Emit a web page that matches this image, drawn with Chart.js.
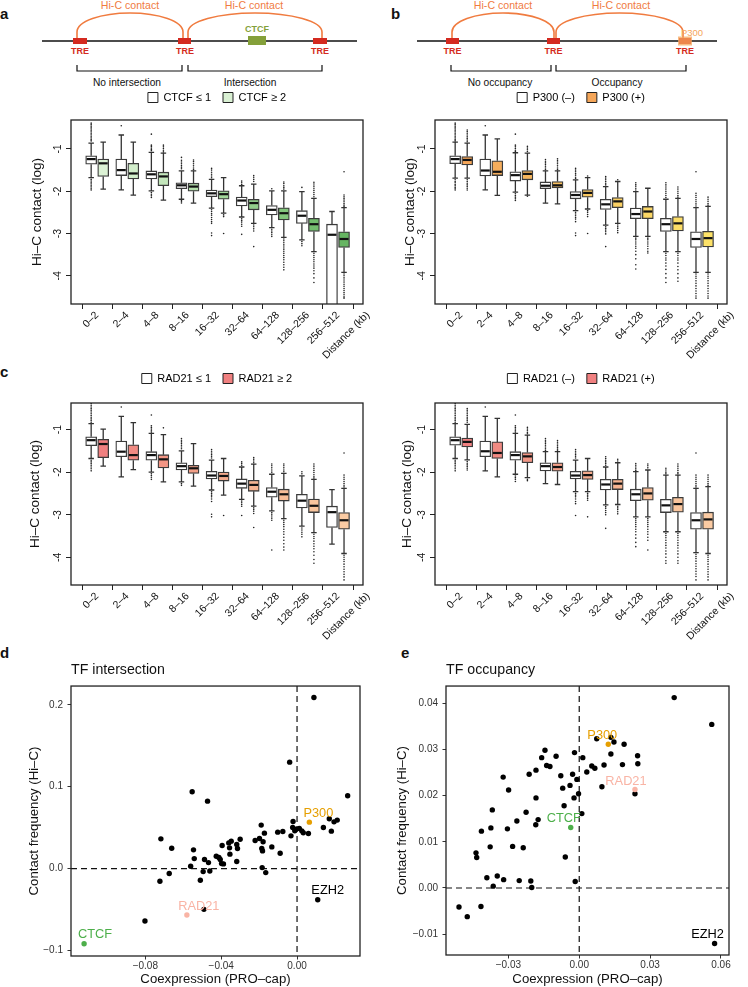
<!DOCTYPE html>
<html>
<head>
<meta charset="utf-8">
<script src="https://cdn.jsdelivr.net/npm/chart.js@4.4.1/dist/chart.umd.min.js"></script>
<style>
  html, body { margin: 0; padding: 0; background: #fff; }
  body { width: 748px; height: 987px; position: relative; overflow: hidden;
         font-family: "Liberation Sans", Arial, Helvetica, sans-serif; color: #111; }
  .pane { position: absolute; }
  .tag { position: absolute; font-weight: bold; font-size: 15px; line-height: 1; }
  svg { position: absolute; overflow: visible; }
</style>
</head>
<body>

<div class="tag" style="left:0;top:6px">a</div>
<div class="tag" style="left:391px;top:6px">b</div>
<div class="tag" style="left:0;top:364px">c</div>
<div class="tag" style="left:0;top:645px">d</div>
<div class="tag" style="left:401px;top:645px">e</div>

<!-- schematic a -->
<svg style="left:0;top:0" width="374" height="92" font-family="Liberation Sans, Arial, sans-serif">
  <g fill="none" stroke="#f07b3f" stroke-width="1.6">
    <path d="M77,38 V32 A53,19 0 0 1 183,32 V38"/>
    <path d="M188,38 V32 A67,19 0 0 1 322,32 V38"/>
  </g>
  <line x1="42" y1="41" x2="357" y2="41" stroke="#111" stroke-width="1.6"/>
  <rect x="73" y="38" width="14" height="6" fill="#d42a20"/>
  <rect x="178" y="38" width="13" height="6" fill="#d42a20"/>
  <rect x="313" y="38" width="14" height="6" fill="#d42a20"/>
  <rect x="248" y="36" width="18" height="9" fill="#84a03a"/>
  <g fill="#d42a20" font-size="9" font-weight="bold" text-anchor="middle">
    <text x="80" y="54">TRE</text><text x="185" y="54">TRE</text><text x="320" y="54">TRE</text>
  </g>
  <text x="257" y="32" fill="#84a03a" font-size="9" font-weight="bold" text-anchor="middle">CTCF</text>
  <g fill="#f07b3f" font-size="10.6" text-anchor="middle">
    <text x="130" y="9">Hi-C contact</text><text x="254" y="9">Hi-C contact</text>
  </g>
  <path d="M77,65 V71 H182 V65 M188,65 V71 H322 V65" fill="none" stroke="#111" stroke-width="1.2"/>
  <g fill="#111" font-size="10.2" text-anchor="middle">
    <text x="127" y="86">No intersection</text><text x="250" y="86">Intersection</text>
  </g>
</svg>

<!-- schematic b -->
<svg style="left:374px;top:0" width="374" height="92" font-family="Liberation Sans, Arial, sans-serif">
  <g fill="none" stroke="#f07b3f" stroke-width="1.6">
    <path d="M78,38 V32 A51,19 0 0 1 180,32 V38"/>
    <path d="M182,38 V32 A63.5,19 0 0 1 309,32 V38"/>
  </g>
  <line x1="43" y1="41" x2="343" y2="41" stroke="#111" stroke-width="1.6"/>
  <rect x="72" y="38" width="13" height="6" fill="#d42a20"/>
  <rect x="173" y="38" width="13" height="6" fill="#d42a20"/>
  <rect x="305" y="38" width="12" height="6" fill="#d42a20"/>
  <rect x="304" y="36.5" width="14" height="9" fill="#f5a65b" fill-opacity="0.75"/>
  <g fill="#d42a20" font-size="9" font-weight="bold" text-anchor="middle">
    <text x="78.5" y="54">TRE</text><text x="179.5" y="54">TRE</text><text x="311" y="54">TRE</text>
  </g>
  <text x="318" y="35.5" fill="#f5a65b" font-size="9.5" text-anchor="middle">P300</text>
  <g fill="#f07b3f" font-size="10.6" text-anchor="middle">
    <text x="129" y="9">Hi-C contact</text><text x="247" y="9">Hi-C contact</text>
  </g>
  <path d="M77,65 V71 H177 V65 M182,65 V71 H312 V65" fill="none" stroke="#111" stroke-width="1.2"/>
  <g fill="#111" font-size="10.2" text-anchor="middle">
    <text x="126" y="86">No occupancy</text><text x="243" y="86">Occupancy</text>
  </g>
</svg>

<div class="pane" style="left:0;top:80px"><canvas id="chartA" width="384" height="282"></canvas></div>
<div class="pane" style="left:364px;top:80px"><canvas id="chartB" width="384" height="282"></canvas></div>
<div class="pane" style="left:0;top:361px"><canvas id="chartC1" width="384" height="282"></canvas></div>
<div class="pane" style="left:364px;top:361px"><canvas id="chartC2" width="384" height="282"></canvas></div>
<div class="pane" style="left:0;top:640px"><canvas id="chartD" width="374" height="347"></canvas></div>
<div class="pane" style="left:374px;top:640px"><canvas id="chartE" width="374" height="347"></canvas></div>

<script>
// distance bins and log contact ticks shared by the four box plots
const distanceBins = ['0–2', '2–4', '4–8', '8–16', '16–32', '32–64', '64–128', '128–256', '256–512'];
const distanceEndLabel = 'Distance (kb)';
const contactTicks = [-4, -3, -2, -1];

// each box: [lower whisker, Q1, median, Q3, upper whisker]
// panel a: CTCF <= 1 / CTCF >= 2
const ctcfLow = [
  [-1.68, -1.36, -1.24, -1.16, -0.86],
  [-1.97, -1.63, -1.50, -1.24, -0.67],
  [-1.99, -1.71, -1.60, -1.52, -1.08],
  [-2.19, -1.94, -1.86, -1.80, -1.52],
  [-2.40, -2.13, -2.05, -1.97, -1.72],
  [-2.61, -2.35, -2.22, -2.14, -1.87],
  [-2.86, -2.56, -2.44, -2.34, -1.99],
  [-3.15, -2.76, -2.58, -2.46, -2.01],
  [-5.60, -5.20, -3.03, -2.78, -2.48]
];
const ctcfLowOut = [
  [-0.39, -0.42, -0.46, -0.5, -0.53, -0.57, -0.6, -0.64, -0.67, -0.71, -0.74, -0.78, -0.81, -1.72, -1.76, -1.8, -1.83, -1.87, -1.9, -1.94, -1.97],
  [-0.45],
  [-0.65, -0.91, -0.94, -0.98, -1.01, -1.04, -2.03, -2.07, -2.11, -2.15],
  [-1.2, -1.27, -1.31, -1.35, -1.39, -1.43, -1.47, -2.22, -2.25, -2.28],
  [-1.46, -1.5, -1.55, -1.6, -1.64, -1.68, -2.44, -2.48, -2.53, -2.57, -2.62, -2.67, -2.72, -2.76, -2.99, -3.05],
  [-1.76, -1.8, -1.84, -2.65, -2.69, -2.73, -2.78, -2.83, -3.02],
  [-1.94, -2.9, -2.94, -2.98, -3.03, -3.07],
  [-1.91, -3.19, -3.24, -3.29],
  []
];
const ctcfHigh = [
  [-1.95, -1.65, -1.34, -1.24, -0.84],
  [-2.09, -1.71, -1.58, -1.34, -0.84],
  [-2.21, -1.87, -1.65, -1.55, -1.10],
  [-2.28, -2.00, -1.89, -1.81, -1.52],
  [-2.52, -2.19, -2.07, -1.99, -1.68],
  [-2.76, -2.44, -2.28, -2.19, -1.83],
  [-3.09, -2.68, -2.52, -2.39, -1.99],
  [-3.43, -2.95, -2.78, -2.64, -2.17],
  [-3.92, -3.33, -3.13, -2.96, -2.39]
];
const ctcfHighOut = [
  [],
  [],
  [-0.91, -0.95, -0.99, -1.03, -1.07],
  [-1.26, -1.3, -1.35, -1.4, -1.45, -1.49],
  [-2.56, -2.6, -3.0],
  [-1.63, -1.67, -1.72, -1.77, -2.8, -2.84, -2.89, -2.94, -3.31],
  [-1.78, -1.82, -1.87, -1.91, -1.95, -3.13, -3.17, -3.22, -3.27, -3.32, -3.37, -3.42, -3.47, -3.52, -3.57, -3.62, -3.68, -3.74, -3.8, -3.86],
  [-1.79, -1.83, -1.88, -1.93, -1.98, -2.03, -2.08, -2.13, -3.47, -3.52, -3.57, -3.62, -3.67, -3.72, -3.77, -3.82, -3.88, -3.95, -4.05, -4.16],
  [-1.54, -2.09, -2.13, -2.17, -2.21, -2.25, -2.29, -2.33, -2.36, -3.96, -4.0, -4.05, -4.1, -4.15, -4.2, -4.25, -4.3, -4.35, -4.4, -4.45, -4.5, -4.53]
];

// panel b: P300 (-) / P300 (+)
const p300Neg = [
  [-1.69, -1.35, -1.24, -1.16, -0.84],
  [-1.97, -1.64, -1.51, -1.24, -0.67],
  [-2.02, -1.76, -1.62, -1.54, -1.09],
  [-2.28, -1.94, -1.87, -1.78, -1.52],
  [-2.46, -2.18, -2.09, -2.01, -1.73],
  [-2.80, -2.43, -2.31, -2.19, -1.89],
  [-3.07, -2.65, -2.54, -2.40, -2.01],
  [-3.43, -2.95, -2.78, -2.64, -2.19],
  [-3.92, -3.33, -3.13, -2.96, -2.39]
];
const p300NegOut = [
  [-0.39, -0.42, -0.46, -0.5, -0.53, -0.57, -0.6, -0.64, -0.67, -0.71, -0.74, -0.78, -0.81, -1.73, -1.77, -1.8, -1.84, -1.87, -1.91, -1.94, -1.97],
  [-0.45],
  [-0.65, -0.91, -0.95, -0.99, -1.03, -1.06, -2.06, -2.1, -2.14, -2.18, -2.22],
  [-1.25, -1.29, -1.33, -1.37, -1.41, -1.45, -1.49],
  [-1.46, -1.5, -1.54, -1.58, -1.62, -1.67, -1.7, -2.5, -2.54, -2.58, -2.62, -2.66, -2.72, -2.99, -3.05],
  [-1.65, -1.69, -1.73, -1.77, -1.81, -1.85, -2.84, -2.88, -2.92, -2.96, -3.01, -3.31],
  [-1.8, -1.84, -1.88, -1.93, -1.97, -3.11, -3.15, -3.2, -3.25, -3.3, -3.35, -3.42, -3.5, -3.6, -3.74, -3.84],
  [-1.8, -1.85, -1.9, -1.95, -2.0, -2.05, -2.1, -2.15, -3.47, -3.52, -3.58, -3.63, -3.7, -3.77, -3.85, -3.95, -4.05, -4.16],
  [-1.54, -2.05, -2.1, -2.15, -2.2, -2.25, -2.3, -2.35, -3.96, -4.01, -4.06, -4.12, -4.18, -4.24, -4.3, -4.36, -4.42, -4.48, -4.53]
];
const p300Pos = [
  [-1.69, -1.38, -1.26, -1.18, -0.86],
  [-2.10, -1.63, -1.54, -1.28, -0.76],
  [-2.09, -1.73, -1.59, -1.51, -1.10],
  [-2.30, -1.92, -1.86, -1.77, -1.52],
  [-2.42, -2.14, -2.04, -1.96, -1.68],
  [-2.76, -2.39, -2.24, -2.15, -1.77],
  [-3.07, -2.65, -2.48, -2.36, -1.93],
  [-3.43, -2.94, -2.76, -2.60, -2.17],
  [-3.92, -3.32, -3.11, -2.95, -2.36]
];
const p300PosOut = [
  [-0.55, -0.59, -0.63, -0.67, -0.71, -0.75, -0.79, -0.83, -1.73, -1.77, -1.81, -1.85, -1.89, -1.93, -1.97],
  [],
  [-0.94, -0.98, -1.02, -1.06, -2.12],
  [-1.23, -1.27, -1.31, -1.35, -1.4, -1.45, -1.49],
  [-1.64, -2.46, -2.5, -2.55, -2.6, -3.0],
  [-1.73, -2.8, -2.84, -2.88, -2.93, -2.98],
  [-3.11, -3.15, -3.2, -3.25, -3.3, -3.36, -3.42, -3.46],
  [-1.9, -1.95, -2.0, -2.05, -2.1, -2.14, -3.47, -3.52, -3.58, -3.63, -3.7, -3.78, -3.86, -3.95, -4.05, -4.13],
  [-2.14, -2.19, -2.24, -2.29, -2.33, -3.96, -4.01, -4.06, -4.12, -4.18, -4.24, -4.3, -4.36, -4.42, -4.48, -4.53]
];

// panel c left: RAD21 <= 1 / RAD21 >= 2
const rad21Low = [
  [-1.68, -1.38, -1.25, -1.17, -0.86],
  [-2.11, -1.64, -1.52, -1.27, -0.69],
  [-2.00, -1.72, -1.60, -1.52, -1.09],
  [-2.23, -1.95, -1.86, -1.78, -1.50],
  [-2.42, -2.16, -2.08, -1.98, -1.72],
  [-2.64, -2.38, -2.27, -2.16, -1.88],
  [-2.91, -2.59, -2.46, -2.36, -2.05],
  [-3.27, -2.84, -2.67, -2.52, -2.09],
  [-3.69, -3.30, -2.94, -2.80, -2.41]
];
const rad21LowOut = [
  [-0.39, -0.43, -0.47, -0.51, -0.55, -0.59, -0.63, -0.67, -0.71, -0.75, -0.79, -0.83, -1.72, -1.76, -1.8, -1.84, -1.88, -1.92, -1.97],
  [-0.47],
  [-0.66, -0.91, -0.95, -0.99, -1.03, -1.06, -2.04, -2.08, -2.12, -2.17],
  [-1.21, -1.25, -1.29, -1.33, -1.37, -1.41, -1.45, -2.27, -2.31],
  [-1.47, -1.51, -1.55, -1.59, -1.63, -1.67, -2.46, -2.5, -2.54, -2.58, -2.63, -2.69, -2.99, -3.05],
  [-1.76, -1.8, -1.84, -2.68, -2.72, -2.76, -2.8, -3.02],
  [-1.81, -1.85, -1.9, -1.95, -2.0, -2.95, -2.99, -3.03, -3.08, -3.13, -3.83],
  [-1.99, -2.04, -3.31, -3.36, -3.41, -3.46, -3.52],
  []
];
const rad21High = [
  [-1.86, -1.66, -1.34, -1.23, -0.99],
  [-1.94, -1.72, -1.60, -1.36, -0.84],
  [-2.23, -1.90, -1.70, -1.59, -1.12],
  [-2.33, -2.03, -1.91, -1.84, -1.33],
  [-2.54, -2.21, -2.09, -2.00, -1.68],
  [-2.80, -2.45, -2.30, -2.19, -1.81],
  [-3.09, -2.68, -2.52, -2.40, -2.03],
  [-3.42, -2.95, -2.79, -2.63, -2.17],
  [-3.91, -3.34, -3.13, -2.95, -2.38]
];
const rad21HighOut = [
  [],
  [],
  [-0.96],
  [],
  [-3.02],
  [-1.66, -1.7, -1.74, -1.78, -2.84, -2.88, -2.92, -2.97, -3.3],
  [-1.81, -1.85, -1.9, -1.95, -1.99, -3.13, -3.18, -3.23, -3.28, -3.34, -3.4, -3.46, -3.53, -3.6, -3.68, -3.76, -3.83],
  [-1.81, -1.86, -1.91, -1.96, -2.01, -2.06, -2.11, -2.14, -3.46, -3.51, -3.56, -3.62, -3.68, -3.74, -3.8, -3.87, -3.95, -4.05, -4.14],
  [-1.55, -2.07, -2.12, -2.17, -2.22, -2.27, -2.32, -2.35, -3.95, -4.0, -4.05, -4.1, -4.16, -4.22, -4.28, -4.34, -4.4, -4.46, -4.53]
];

// panel c right: RAD21 (-) / RAD21 (+)
const rad21Neg = [
  [-1.68, -1.37, -1.25, -1.17, -0.86],
  [-1.97, -1.64, -1.51, -1.27, -0.69],
  [-2.05, -1.72, -1.60, -1.52, -1.09],
  [-2.27, -1.97, -1.86, -1.78, -1.52],
  [-2.46, -2.16, -2.08, -1.98, -1.72],
  [-2.77, -2.42, -2.29, -2.17, -1.88],
  [-3.05, -2.67, -2.52, -2.40, -1.99],
  [-3.40, -2.95, -2.78, -2.64, -2.07],
  [-3.89, -3.34, -3.13, -2.95, -2.38]
];
const rad21NegOut = [
  [-0.39, -0.43, -0.47, -0.51, -0.55, -0.59, -0.63, -0.67, -0.71, -0.75, -0.79, -0.83, -1.72, -1.76, -1.8, -1.84, -1.88, -1.92, -1.97],
  [-0.47],
  [-0.66, -0.91, -0.95, -0.99, -1.03, -1.06, -2.09, -2.13, -2.17, -2.22],
  [-1.21, -1.25, -1.29, -1.33, -1.37, -1.41, -1.45, -1.49],
  [-1.47, -1.51, -1.55, -1.59, -1.63, -1.67, -2.5, -2.54, -2.58, -2.63, -2.69, -2.74, -3.02],
  [-1.64, -1.68, -1.72, -1.76, -1.8, -1.84, -2.81, -2.85, -2.9, -2.95, -3.0, -3.32],
  [-1.8, -1.84, -1.88, -1.92, -1.96, -3.09, -3.13, -3.18, -3.23, -3.28, -3.34, -3.4, -3.47, -3.55, -3.65, -3.75],
  [-1.91, -1.95, -2.0, -2.04, -3.44, -3.49, -3.54, -3.6, -3.66, -3.72, -3.78, -3.85, -3.92, -4.0, -4.08, -4.14],
  [-1.55, -2.07, -2.12, -2.17, -2.22, -2.27, -2.32, -2.35, -3.93, -3.98, -4.03, -4.09, -4.15, -4.21, -4.27, -4.33, -4.39, -4.45, -4.53]
];
const rad21Pos = [
  [-1.71, -1.41, -1.29, -1.20, -0.88],
  [-2.11, -1.68, -1.55, -1.29, -0.74],
  [-2.13, -1.78, -1.63, -1.54, -1.13],
  [-2.29, -1.98, -1.88, -1.78, -1.52],
  [-2.46, -2.17, -2.07, -1.97, -1.68],
  [-2.76, -2.41, -2.27, -2.17, -1.78],
  [-3.05, -2.66, -2.50, -2.36, -1.95],
  [-3.40, -2.94, -2.75, -2.59, -2.07],
  [-3.91, -3.34, -3.11, -2.94, -2.34]
];
const rad21PosOut = [
  [-0.51, -0.55, -0.59, -0.63, -0.67, -0.71, -0.75, -0.79, -0.83, -1.75, -1.79, -1.83, -1.87, -1.91, -1.95],
  [],
  [-0.95, -0.99, -1.03, -1.07, -1.1, -2.17, -2.2],
  [-1.26, -1.3, -1.34, -1.38, -1.42, -1.46, -1.5],
  [-2.5, -2.54, -2.58, -2.62, -2.66, -3.05],
  [-1.7, -1.74, -2.8, -2.84, -2.88, -2.93, -2.98],
  [-1.81, -1.85, -1.9, -3.09, -3.13, -3.18, -3.23, -3.28, -3.34, -3.4, -3.46, -3.53, -3.6, -3.83],
  [-1.81, -1.86, -1.91, -1.96, -2.01, -2.04, -3.44, -3.49, -3.54, -3.6, -3.66, -3.72, -3.78, -3.85, -3.92, -4.0, -4.08, -4.14],
  [-2.07, -2.12, -2.17, -2.22, -2.27, -2.31, -3.95, -4.0, -4.05, -4.1, -4.16, -4.22, -4.28, -4.34, -4.4, -4.46, -4.53]
];

// panel d: TF intersection
const interX = [0.0089, -0.0039, 0.0267, -0.0553, -0.0472, 0.0170, 0.0195, 0.0212, 0.0181, 0.0139,
  -0.0021, -0.0023, -0.0005, 0.0012, 0.0025, 0.0033, 0.0060, -0.0032, -0.0012, -0.0189,
  -0.0172, -0.0102, -0.0075, -0.0133, -0.0089, -0.0221, -0.0198, -0.0179, -0.0186, -0.0182,
  -0.0184, -0.0165, -0.0300, -0.0318, -0.0314, -0.0318, -0.0347, -0.0360, -0.0395, -0.0356,
  -0.0354, -0.0426, -0.0412, -0.0405, -0.0398, -0.0388, -0.0546, -0.0542, -0.0488, -0.0467,
  -0.0460, -0.0495, -0.0561, -0.0510, -0.0718, -0.0661, -0.0674, -0.0723, -0.0802, -0.0491];
const interY = [0.209, 0.130, 0.089, 0.0939, 0.0824, 0.0608, 0.0571, 0.0592, 0.0457, 0.0502,
  0.0576, 0.0502, 0.0482, 0.0490, 0.0461, 0.0437, 0.0429, 0.0400, 0.0461, 0.0531,
  0.0433, 0.0445, 0.0453, 0.0265, 0.0188, 0.0343, 0.0367, 0.0327, 0.0245, 0.0216,
  0.0012, -0.0049, 0.0359, 0.0294, 0.0245, 0.0086, 0.0335, 0.0314, 0.0282, 0.0253,
  0.0176, 0.0151, 0.0135, 0.0110, 0.0061, 0.0057, 0.0229, 0.0122, 0.0110, 0.0073,
  -0.0029, -0.0037, 0.0029, -0.0143, 0.0363, 0.0249, -0.0061, -0.0155, -0.0641, -0.0498];
const interMarks = ['CTCF', 'RAD21', 'P300', 'EZH2'];
const interMarkX = [-0.1123, -0.0581, 0.0065, 0.0109];
const interMarkY = [-0.0918, -0.0567, 0.0567, -0.0380];
const interXTicks = [-0.08, -0.04, 0];
const interYTicks = [-0.1, 0, 0.1, 0.2];

// panel e: TF occupancy
const occX = [0.0402, 0.0561, 0.0074, 0.0134, 0.0147, 0.0190, 0.0134, 0.0247, 0.0248, 0.0183,
  0.0105, 0.0053, 0.0066, 0.0032, 0.0015, -0.0020, 0.0096, 0.0236, -0.0098, -0.0145,
  -0.0159, -0.0138, -0.0124, -0.0183, -0.0212, -0.0078, -0.0028, -0.0010, -0.0039, -0.0070,
  -0.0003, -0.0022, -0.0183, -0.0064, 0.0011, -0.0225, -0.0174, -0.0184, -0.0264, -0.0322,
  -0.0299, -0.0368, -0.0414, -0.0374, -0.0304, -0.0437, -0.0434, -0.0377, -0.0282, -0.0237,
  -0.0059, -0.0391, -0.0347, -0.0364, -0.0320, -0.0254, -0.0205, -0.0201, -0.0017, -0.0509,
  -0.0474, -0.0416];
const occY = [0.0412, 0.0354, 0.0323, 0.0326, 0.0316, 0.0311, 0.0290, 0.0286, 0.0269, 0.0267,
  0.0266, 0.0264, 0.0259, 0.0251, 0.0282, 0.0293, 0.0219, 0.0204, 0.0285, 0.0298,
  0.0282, 0.0265, 0.0263, 0.0255, 0.0246, 0.0243, 0.0246, 0.0235, 0.0222, 0.0216,
  0.0204, 0.0195, 0.0195, 0.0178, 0.0161, 0.0164, 0.0148, 0.0137, 0.0145, 0.0240,
  0.0212, 0.0169, 0.0123, 0.0130, 0.0128, 0.0076, 0.0066, 0.0089, 0.0090, 0.0087,
  0.0067, 0.0022, 0.0026, 0.0004, 0.0018, 0.0016, 0.0015, 0.0001, 0.0014, -0.0041,
  -0.0062, -0.0040];
const occMarks = ['CTCF', 'RAD21', 'P300', 'EZH2'];
const occMarkX = [-0.0036, 0.0236, 0.0123, 0.0573];
const occMarkY = [0.0131, 0.0213, 0.0311, -0.0120];
const occXTicks = [-0.03, 0, 0.03, 0.06];
const occYTicks = [-0.01, 0, 0.01, 0.02, 0.03, 0.04];

// styles
const greenFills = ['#dcf2d5', '#d2eecb', '#c4e7bc', '#b5e0ac', '#a3d79b', '#92ce8b', '#82c57c', '#73bd6e', '#66b562'];
const orangeFills = ['#f5a659', '#f6ad5b', '#f7b65d', '#f8bf5f', '#f9c862', '#fad064', '#fbd766', '#fcdd67', '#fde268'];
const redFills = ['#f08080', '#f08a82', '#f29584', '#f3a088', '#f5aa8c', '#f6b491', '#f8bd97', '#f9c59d', '#fbcba3'];
const markColors = { CTCF: '#4daf4a', RAD21: '#f9b4a5', P300: '#e69f00', EZH2: '#000000' };
const FONT = '"Liberation Sans", Arial, Helvetica, sans-serif';

Chart.defaults.font.family = FONT;
Chart.defaults.color = '#111';

const framePlugin = {
  id: 'frame',
  afterDatasetsDraw(chart) {
    const { ctx, chartArea: a } = chart;
    ctx.save();
    ctx.strokeStyle = '#222';
    ctx.lineWidth = 1.3;
    ctx.strokeRect(a.left, a.top, a.right - a.left, a.bottom - a.top);
    ctx.restore();
  }
};

// whiskers under the boxes, medians on top
function drawBoxParts(chart, medians) {
  const { ctx, chartArea: a, scales: { y } } = chart;
  ctx.save();
  ctx.beginPath();
  ctx.rect(a.left, a.top, a.right - a.left, a.bottom - a.top);
  ctx.clip();
  chart.data.datasets.forEach((ds, di) => {
    if (!ds.stats) return;
    const bars = chart.getDatasetMeta(di).data;
    ds.stats.forEach((s, i) => {
      const cx = bars[i].x, half = bars[i].width / 2;
      ctx.beginPath();
      if (medians) {
        const my = y.getPixelForValue(s[2]);
        ctx.strokeStyle = '#111';
        ctx.lineWidth = 2.2;
        ctx.moveTo(cx - half + 1, my);
        ctx.lineTo(cx + half - 1, my);
      } else {
        ctx.strokeStyle = '#333';
        ctx.lineWidth = 1.3;
        ctx.moveTo(cx, y.getPixelForValue(s[0]));
        ctx.lineTo(cx, y.getPixelForValue(s[1]));
        ctx.moveTo(cx, y.getPixelForValue(s[3]));
        ctx.lineTo(cx, y.getPixelForValue(s[4]));
        [s[0], s[4]].forEach(v => {
          const py = y.getPixelForValue(v);
          ctx.moveTo(cx - half / 2, py);
          ctx.lineTo(cx + half / 2, py);
        });
      }
      ctx.stroke();
    });
  });
  ctx.restore();
}
const whiskerPlugin = {
  id: 'whiskers',
  beforeDatasetsDraw(chart) { drawBoxParts(chart, false); },
  afterDatasetsDraw(chart) { drawBoxParts(chart, true); }
};

function makeBoxChart(id, cfg) {
  const shift = 0.2;
  const tickVals = [];
  for (let k = 0; k <= 2 * distanceBins.length + 1; k++) tickVals.push(k / 2);

  const boxes = (stats, fills, dx) => ({
    type: 'bar', stats, order: 1,
    data: stats.map((s, i) => ({ x: i + 0.5 + dx, y: [s[1], s[3]] })),
    backgroundColor: fills, borderColor: '#3b3b3b', borderWidth: 1.3,
    borderSkipped: false, barThickness: 11, grouped: false
  });
  const dots = (outs, dx) => ({
    type: 'scatter', order: 2,
    data: outs.flatMap((vals, i) => vals.map(v => ({ x: i + 0.5 + dx, y: v }))),
    pointRadius: 0.8, pointBackgroundColor: '#222', pointBorderWidth: 0
  });

  new Chart(document.getElementById(id), {
    type: 'bar',
    data: {
      datasets: [
        boxes(cfg.left, '#ffffff', -shift),
        boxes(cfg.right, cfg.fills, shift),
        dots(cfg.leftOut, -shift),
        dots(cfg.rightOut, shift)
      ]
    },
    options: {
      responsive: false, animation: false, events: [],
      layout: { padding: { top: 0, right: 21, bottom: 0, left: 0 } },
      plugins: {
        tooltip: { enabled: false },
        legend: {
          position: 'top', align: 'center', fullSize: false,
          labels: {
            boxWidth: 10, boxHeight: 10, padding: 12, color: '#111', font: { size: 11 },
            generateLabels: () => cfg.legend.map((text, k) => ({
              text, fillStyle: k ? cfg.legendFill : '#ffffff', strokeStyle: '#222',
              lineWidth: 1, hidden: false, datasetIndex: k
            }))
          }
        }
      },
      scales: {
        x: {
          type: 'linear', min: -0.37, max: 9.33, bounds: 'data', offset: false,
          afterBuildTicks: s => { s.ticks = tickVals.map(v => ({ value: v })); },
          afterFit: s => { s.height = 58; },
          border: { display: false },
          grid: {
            display: true, drawOnChartArea: false, offset: false, tickLength: 5, tickWidth: 1,
            tickColor: c => Number.isInteger(c.tick.value) ? '#222' : 'rgba(0,0,0,0)'
          },
          ticks: {
            autoSkip: false, minRotation: 45, maxRotation: 45, padding: 0,
            font: { size: 10.5 }, color: '#111',
            callback: v => Number.isInteger(v) ? '' : (v < distanceBins.length ? distanceBins[Math.floor(v)] : distanceEndLabel)
          }
        },
        gap: {
          type: 'linear', position: 'top', display: true,
          afterFit: s => { s.height = cfg.gap; },
          border: { display: false }, grid: { display: false }, ticks: { display: false }
        },
        y: {
          min: cfg.yMin, max: cfg.yMax, bounds: 'data',
          afterBuildTicks: s => { s.ticks = contactTicks.map(v => ({ value: v })); },
          afterFit: s => { s.width = 71; },
          border: { display: false },
          grid: { drawOnChartArea: false, tickLength: 5, tickColor: '#222' },
          ticks: { minRotation: 90, maxRotation: 90, crossAlign: 'center', padding: 3, font: { size: 10.5 }, color: '#111' },
          title: { display: true, text: 'Hi–C contact (log)', font: { size: 13.5 }, color: '#111', padding: { top: cfg.titlePad, bottom: 0 } }
        }
      }
    },
    plugins: [whiskerPlugin, framePlugin]
  });
}

makeBoxChart('chartA', {
  left: ctcfLow, leftOut: ctcfLowOut, right: ctcfHigh, rightOut: ctcfHighOut,
  fills: greenFills, legend: ['CTCF ≤ 1', 'CTCF ≥ 2'], legendFill: '#d9f0d3',
  yMin: -4.668, yMax: -0.315, gap: 7, titlePad: 29
});
makeBoxChart('chartB', {
  left: p300Neg, leftOut: p300NegOut, right: p300Pos, rightOut: p300PosOut,
  fills: orangeFills, legend: ['P300 (–)', 'P300 (+)'], legendFill: '#f5a659',
  yMin: -4.668, yMax: -0.315, gap: 7, titlePad: 38
});
makeBoxChart('chartC1', {
  left: rad21Low, leftOut: rad21LowOut, right: rad21High, rightOut: rad21HighOut,
  fills: redFills, legend: ['RAD21 ≤ 1', 'RAD21 ≥ 2'], legendFill: '#f08080',
  yMin: -4.65, yMax: -0.377, gap: 9, titlePad: 27
});
makeBoxChart('chartC2', {
  left: rad21Neg, leftOut: rad21NegOut, right: rad21Pos, rightOut: rad21PosOut,
  fills: redFills, legend: ['RAD21 (–)', 'RAD21 (+)'], legendFill: '#f08080',
  yMin: -4.65, yMax: -0.377, gap: 9, titlePad: 35
});

// scatter panels
const zeroLinePlugin = {
  id: 'zeroLines',
  beforeDatasetsDraw(chart) {
    const { ctx, chartArea: a, scales: { x, y } } = chart;
    const px = x.getPixelForValue(0), py = y.getPixelForValue(0);
    ctx.save();
    ctx.strokeStyle = '#111';
    ctx.lineWidth = 1.2;
    ctx.setLineDash([6, 4]);
    ctx.beginPath();
    ctx.moveTo(px, a.top); ctx.lineTo(px, a.bottom);
    ctx.moveTo(a.left, py); ctx.lineTo(a.right, py);
    ctx.stroke();
    ctx.restore();
  }
};
const markLabelPlugin = {
  id: 'markLabels',
  afterDatasetsDraw(chart) {
    const ctx = chart.ctx;
    ctx.save();
    ctx.font = '12.8px ' + FONT;
    ctx.textAlign = 'center';
    ctx.textBaseline = 'middle';
    chart.data.datasets.forEach((ds, di) => {
      if (!ds.markText) return;
      const pt = chart.getDatasetMeta(di).data[0];
      ctx.fillStyle = markColors[ds.markText];
      ctx.fillText(ds.markText, pt.x + ds.markShift[0], pt.y + ds.markShift[1]);
    });
    ctx.restore();
  }
};

const signed = (v, d) => (v < 0 ? '−' : '') + Math.abs(v).toFixed(d);

function makeScatter(id, cfg) {
  const datasets = [{
    data: cfg.x.map((v, i) => ({ x: v, y: cfg.y[i] })),
    pointRadius: 2.7, pointBackgroundColor: '#000', pointBorderWidth: 0, order: 2
  }];
  cfg.marks.forEach((name, k) => datasets.push({
    data: [{ x: cfg.markX[k], y: cfg.markY[k] }],
    pointRadius: 2.7, pointBackgroundColor: markColors[name], pointBorderWidth: 0, order: 1,
    markText: name, markShift: cfg.labelShift[k]
  }));

  new Chart(document.getElementById(id), {
    type: 'scatter',
    data: { datasets },
    options: {
      responsive: false, animation: false, events: [],
      layout: { padding: { top: 0, right: cfg.padRight, bottom: 0, left: 0 } },
      plugins: {
        legend: { display: false },
        tooltip: { enabled: false },
        title: {
          display: true, text: cfg.title, align: 'start', fullSize: false, color: '#111',
          font: { size: 14.2, weight: 'normal' }, padding: { top: 22, bottom: 7 }
        }
      },
      scales: {
        x: {
          type: 'linear', min: cfg.xMin, max: cfg.xMax, bounds: 'data',
          afterBuildTicks: s => { s.ticks = cfg.xTicks.map(v => ({ value: v })); },
          afterFit: s => { s.height = cfg.xHeight; },
          border: { display: false },
          grid: { drawOnChartArea: false, tickLength: 3.5, tickColor: '#333' },
          ticks: { padding: 1, font: { size: 10 }, color: '#333', callback: v => signed(v, cfg.xDigits) },
          title: { display: true, text: 'Coexpression (PRO–cap)', font: { size: 13.2 }, color: '#111', padding: { top: 0, bottom: 0 } }
        },
        y: {
          type: 'linear', min: cfg.yMin, max: cfg.yMax, bounds: 'data',
          afterBuildTicks: s => { s.ticks = cfg.yTicks.map(v => ({ value: v })); },
          afterFit: s => { s.width = cfg.yWidth; },
          border: { display: false },
          grid: { drawOnChartArea: false, tickLength: 3.5, tickColor: '#333' },
          ticks: { padding: 4.5, font: { size: 10 }, color: '#333', callback: v => signed(v, cfg.yDigits) },
          title: { display: true, text: 'Contact frequency (Hi–C)', font: { size: 13.2 }, color: '#111', padding: { top: cfg.titlePad, bottom: 0 } }
        }
      }
    },
    plugins: [zeroLinePlugin, markLabelPlugin, framePlugin]
  });
}

makeScatter('chartD', {
  title: 'TF intersection', x: interX, y: interY,
  marks: interMarks, markX: interMarkX, markY: interMarkY,
  labelShift: [[11, -9], [12, -9], [9, -9], [10, -9]],
  xMin: -0.1192, xMax: 0.0332, yMin: -0.1068, yMax: 0.223,
  xTicks: interXTicks, yTicks: interYTicks, xDigits: 2, yDigits: 1,
  yWidth: 71, xHeight: 31, padRight: 14, titlePad: 26
});
makeScatter('chartE', {
  title: 'TF occupancy', x: occX, y: occY,
  marks: occMarks, markX: occMarkX, markY: occMarkY,
  labelShift: [[-7, -8.5], [-9, -8.5], [-6, -9], [-7, -9]],
  xMin: -0.0564, xMax: 0.0634, yMin: -0.0145, yMax: 0.0437,
  xTicks: occXTicks, yTicks: occYTicks, xDigits: 2, yDigits: 2,
  yWidth: 72, xHeight: 32, padRight: 19, titlePad: 20
});
</script>
</body>
</html>
